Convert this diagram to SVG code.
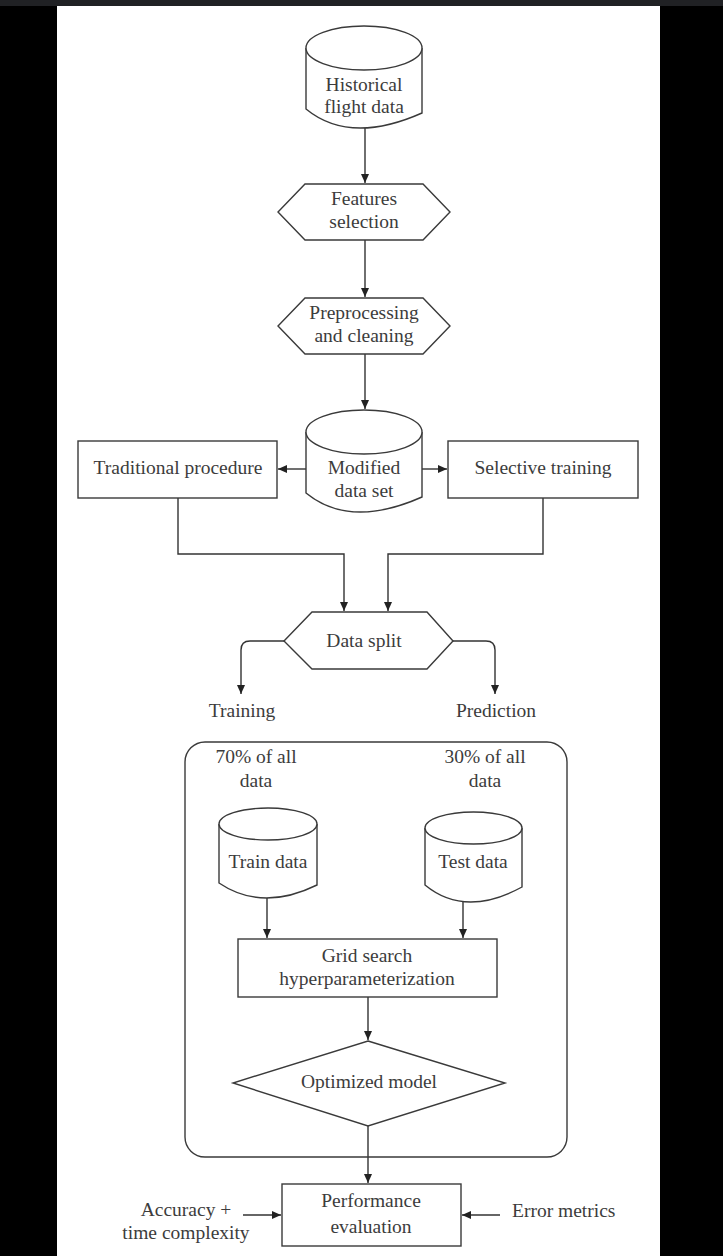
<svg xmlns="http://www.w3.org/2000/svg" width="723" height="1256" viewBox="0 0 723 1256">
  <defs>
    <style>
      .shape { fill: #ffffff; stroke: #3a3a3a; stroke-width: 1.4; }
      .wire { fill: none; stroke: #333333; stroke-width: 1.4; }
      .label { font-family: "Liberation Serif", "Times New Roman", serif; font-size: 19.5px; fill: #3c3c3c; text-anchor: middle; }
      .label-left { font-family: "Liberation Serif", "Times New Roman", serif; font-size: 19.5px; fill: #3c3c3c; text-anchor: start; }
    </style>
    <marker id="arrow" markerUnits="userSpaceOnUse" markerWidth="9" markerHeight="8" refX="9" refY="4" orient="auto">
      <path d="M0,0 L9,4 L0,8 z" fill="#222222"/>
    </marker>
  </defs>

  <!-- page frame -->
  <rect x="0" y="0" width="723" height="1256" fill="#000000"/>
  <rect x="0" y="0" width="723" height="6" fill="#202124"/>
  <rect x="57" y="6" width="603" height="1250" fill="#ffffff"/>

  <!-- connectors -->
  <g id="connectors">
    <path class="wire" d="M365,128 V183" marker-end="url(#arrow)"/>
    <path class="wire" d="M365,240 V297" marker-end="url(#arrow)"/>
    <path class="wire" d="M365,354 V409" marker-end="url(#arrow)"/>
    <path class="wire" d="M306,469 H278" marker-end="url(#arrow)"/>
    <path class="wire" d="M422,469 H447" marker-end="url(#arrow)"/>
    <path class="wire" d="M178,498 V554 H344 V611" marker-end="url(#arrow)"/>
    <path class="wire" d="M543,498 V554 H388 V611" marker-end="url(#arrow)"/>
    <path class="wire" d="M284,641 H250 Q241,641 241,650 V694" marker-end="url(#arrow)"/>
    <path class="wire" d="M453,641 H486 Q495,641 495,650 V694" marker-end="url(#arrow)"/>
    <path class="wire" d="M267,898 V938" marker-end="url(#arrow)"/>
    <path class="wire" d="M463,902 V938" marker-end="url(#arrow)"/>
    <path class="wire" d="M368,997 V1040" marker-end="url(#arrow)"/>
    <path class="wire" d="M368,1126 V1183" marker-end="url(#arrow)"/>
    <path class="wire" d="M243,1215 H281" marker-end="url(#arrow)"/>
    <path class="wire" d="M500,1215 H462" marker-end="url(#arrow)"/>
  </g>

  <!-- historical flight data store -->
  <g id="historical-data">
    <path class="shape" d="M306,48 V109 Q350,145 422,113 V48"/>
    <ellipse class="shape" cx="364" cy="48" rx="58" ry="22"/>
    <text class="label" x="364" y="91">Historical</text>
    <text class="label" x="364" y="113">flight data</text>
  </g>

  <g id="features-selection">
    <polygon class="shape" points="305,184 423,184 450,212 423,240 305,240 278,212"/>
    <text class="label" x="364" y="205">Features</text>
    <text class="label" x="364" y="228">selection</text>
  </g>

  <g id="preprocessing">
    <polygon class="shape" points="305,298 423,298 450,326 423,354 305,354 278,326"/>
    <text class="label" x="364" y="319">Preprocessing</text>
    <text class="label" x="364" y="342">and cleaning</text>
  </g>

  <g id="modified-data-set">
    <path class="shape" d="M306,432 V493 Q350,529 422,497 V432"/>
    <ellipse class="shape" cx="364" cy="432" rx="58" ry="22"/>
    <text class="label" x="364" y="474">Modified</text>
    <text class="label" x="364" y="497">data set</text>
  </g>

  <g id="traditional-procedure">
    <rect class="shape" x="78" y="441" width="199" height="57"/>
    <text class="label" x="178" y="474">Traditional procedure</text>
  </g>

  <g id="selective-training">
    <rect class="shape" x="448" y="441" width="190" height="57"/>
    <text class="label" x="543" y="474">Selective training</text>
  </g>

  <g id="data-split">
    <polygon class="shape" points="312,612 427,612 453,641 427,669 312,669 284,641"/>
    <text class="label" x="364" y="647">Data split</text>
  </g>

  <g id="branch-labels">
    <text class="label" x="242" y="717">Training</text>
    <text class="label" x="496" y="717">Prediction</text>
  </g>

  <!-- model building stage -->
  <g id="model-stage">
    <rect x="185" y="742" width="382" height="415" rx="20" ry="20" fill="none" stroke="#3a3a3a" stroke-width="1.4"/>
    <text class="label" x="256" y="763">70% of all</text>
    <text class="label" x="256" y="787">data</text>
    <text class="label" x="485" y="763">30% of all</text>
    <text class="label" x="485" y="787">data</text>
  </g>

  <g id="train-data">
    <path class="shape" d="M219,824 V883 Q262,912 317,885 V824"/>
    <ellipse class="shape" cx="268" cy="824" rx="49" ry="16"/>
    <text class="label" x="268" y="868">Train data</text>
  </g>

  <g id="test-data">
    <path class="shape" d="M425,828 V885 Q465,918 522,887 V828"/>
    <ellipse class="shape" cx="473.5" cy="828" rx="48.5" ry="16"/>
    <text class="label" x="473" y="868">Test data</text>
  </g>

  <g id="grid-search">
    <rect class="shape" x="238" y="939" width="259" height="58"/>
    <text class="label" x="367" y="962">Grid search</text>
    <text class="label" x="367" y="985">hyperparameterization</text>
  </g>

  <g id="optimized-model">
    <polygon class="shape" points="368,1041 505,1083 368,1126 233,1083"/>
    <text class="label" x="369" y="1088">Optimized model</text>
  </g>

  <g id="performance-evaluation">
    <rect class="shape" x="282" y="1184" width="179" height="62"/>
    <text class="label" x="371" y="1207">Performance</text>
    <text class="label" x="371" y="1233">evaluation</text>
  </g>

  <g id="inputs">
    <text class="label" x="186" y="1216">Accuracy +</text>
    <text class="label" x="186" y="1239">time complexity</text>
    <text class="label-left" x="512" y="1217">Error metrics</text>
  </g>
</svg>
